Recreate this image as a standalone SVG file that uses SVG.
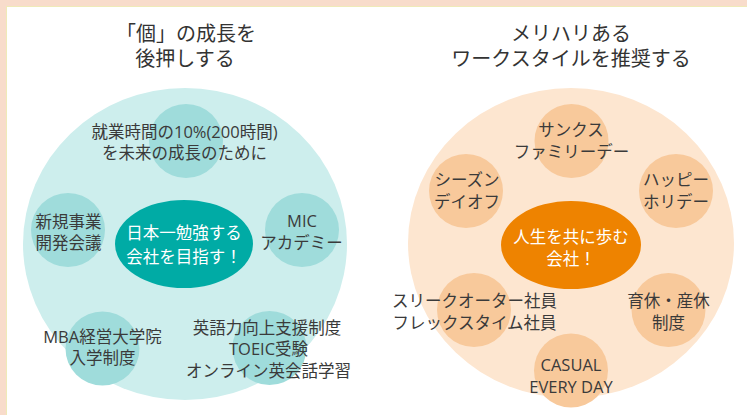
<svg xmlns="http://www.w3.org/2000/svg" width="747" height="415" viewBox="0 0 747 415">
<style>
text{font-family:"Open Sans","Noto Sans CJK JP",sans-serif;text-anchor:middle}
.t{font-size:20px;fill:#333}
.s{font-size:16.5px;fill:#3a3a3a}
.w{font-size:16.5px;fill:#fff}
.lb{fill:#cdeeed}.ls{fill:#9fdcdb}.lc{fill:#00aba5}
.rb{fill:#fde6d0}.rs{fill:#f8c99b}.rc{fill:#ee8300}
</style>
<rect width="747" height="415" fill="#f8dccb"/>
<rect x="6.5" y="6.5" width="750" height="420" fill="#fff" stroke="#efeab8" stroke-width="1"/>
<g id="title-left"><text class="t" x="186" y="41">「個」の成長を</text><text class="t" x="185" y="66">後押しする</text></g>
<g id="title-right"><text class="t" x="571" y="41">メリハリある</text><text class="t" x="571" y="66">ワークスタイルを推奨する</text></g>
<g id="left-group">
<ellipse class="lb" cx="185" cy="244" rx="162" ry="156"/>
<g id="l-top"><circle class="ls" cx="186" cy="141" r="37"/><text class="s" x="184.5" y="138">就業時間の10%(200時間)</text><text class="s" x="184.5" y="159">を未来の成長のために</text></g>
<g id="l-left"><circle class="ls" cx="68" cy="230" r="37"/><text class="s" x="68.5" y="228">新規事業</text><text class="s" x="68.5" y="249">開発会議</text></g>
<g id="l-right"><circle class="ls" cx="302" cy="230" r="37"/><text class="s" x="302" y="227">MIC</text><text class="s" x="301.5" y="249">アカデミー</text></g>
<g id="l-bl"><circle class="ls" cx="102.5" cy="348.5" r="37"/><text class="s" x="102.5" y="343">MBA経営大学院</text><text class="s" x="102.5" y="364">入学制度</text></g>
<g id="l-br"><circle class="ls" cx="269.5" cy="348" r="37"/><text class="s" x="267" y="334">英語力向上支援制度</text><text class="s" x="268.5" y="355">TOEIC受験</text><text class="s" x="268.5" y="377">オンライン英会話学習</text></g>
<g id="l-center"><ellipse class="lc" cx="184" cy="244" rx="69" ry="44"/><text class="w" x="184" y="239">日本一勉強する</text><text class="w" x="184" y="263">会社を目指す！</text></g>
</g>
<g id="right-group">
<ellipse class="rb" cx="571" cy="243" rx="163" ry="155"/>
<g id="r-top"><circle class="rs" cx="571.5" cy="141" r="37"/><text class="s" x="571" y="136">サンクス</text><text class="s" x="571.5" y="158">ファミリーデー</text></g>
<g id="r-tl"><circle class="rs" cx="466" cy="191" r="37"/><text class="s" x="467" y="186">シーズン</text><text class="s" x="467" y="208">デイオフ</text></g>
<g id="r-tr"><circle class="rs" cx="676" cy="191" r="37"/><text class="s" x="676" y="186">ハッピー</text><text class="s" x="676" y="208">ホリデー</text></g>
<g id="r-bl"><circle class="rs" cx="474" cy="310" r="37"/><text class="s" x="474.5" y="307">スリークオーター社員</text><text class="s" x="474.5" y="329">フレックスタイム社員</text></g>
<g id="r-br"><circle class="rs" cx="668.5" cy="310" r="37"/><text class="s" x="668.5" y="307">育休・産休</text><text class="s" x="668.5" y="329">制度</text></g>
<g id="r-bottom"><circle class="rs" cx="571" cy="370.5" r="37"/><text class="s" x="571" y="371">CASUAL</text><text class="s" x="571" y="393">EVERY DAY</text></g>
<g id="r-center"><ellipse class="rc" cx="571" cy="245" rx="70" ry="44"/><text class="w" x="571" y="243">人生を共に歩む</text><text class="w" x="571" y="265">会社！</text></g>
</g>
<g id="connectors"/>
</svg>
